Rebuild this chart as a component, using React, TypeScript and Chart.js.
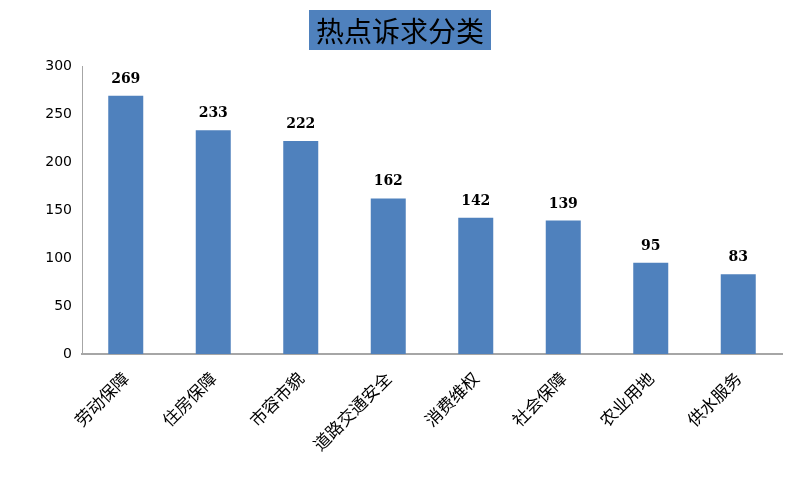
import React, { useEffect, useRef } from "react";
import { Chart, registerables } from "chart.js";

Chart.register(...registerables);

const categories = ["劳动保障", "住房保障", "市容市貌", "道路交通安全", "消费维权", "社会保障", "农业用地", "供水服务"];
const counts = [269, 233, 222, 162, 142, 139, 95, 83];
const yTicks = [0, 50, 100, 150, 200, 250, 300];
const titleText = "热点诉求分类";

const BLUE = "#4F81BD";

const titlePlugin = {
  id: "boxTitle",
  afterDraw(chart: any) {
    const ctx = chart.ctx;
    ctx.save();
    ctx.font = "28px 'Noto Sans CJK SC'";
    const w = ctx.measureText(titleText).width;
    const cx = 400;
    const bw = w + 14;
    ctx.fillStyle = BLUE;
    ctx.fillRect(cx - bw / 2, 10, bw, 40);
    ctx.fillStyle = "#000";
    ctx.textAlign = "center";
    ctx.textBaseline = "middle";
    ctx.fillText(titleText, cx, 31);
    ctx.restore();
  },
};

const valueLabels = {
  id: "valueLabels",
  afterDatasetsDraw(chart: any) {
    const ctx = chart.ctx;
    const meta = chart.getDatasetMeta(0);
    ctx.save();
    ctx.font = "bold 14px 'DejaVu Serif'";
    ctx.fillStyle = "#000";
    ctx.textAlign = "center";
    ctx.textBaseline = "alphabetic";
    meta.data.forEach((el: any, i: number) => {
      ctx.fillText(String(counts[i]), el.x, el.y - 13);
    });
    ctx.restore();
  },
};

export default function App() {
  const ref = useRef<HTMLCanvasElement>(null);
  useEffect(() => {
    document.body.style.margin = "0";
    const chart = new Chart(ref.current!, {
      type: "bar",
      data: {
        labels: categories,
        datasets: [
          {
            data: counts,
            backgroundColor: BLUE,
            barPercentage: 0.4,
            categoryPercentage: 1,
          },
        ],
      },
      options: {
        animation: false,
        responsive: false,
        layout: { padding: { top: 66, right: 18, left: 0, bottom: 0 } },
        plugins: { legend: { display: false }, tooltip: { enabled: false }, title: { display: false } },
        scales: {
          x: {
            grid: { display: false, drawTicks: false },
            border: { color: "#A6A6A6", width: 2 },
            ticks: {
              minRotation: 45,
              maxRotation: 45,
              padding: 14,
              color: "#000",
              font: { family: "'Noto Sans CJK SC'", size: 17 },
            },
            afterFit: (s: any) => {
              s.height = 501 - 354;
            },
          },
          y: {
            min: 0,
            max: 300,
            afterBuildTicks: (s: any) => {
              s.ticks = yTicks.map((v) => ({ value: v }));
            },
            grid: { display: false, drawTicks: false },
            border: { color: "#A6A6A6", width: 1 },
            ticks: {
              padding: 10,
              color: "#000",
              font: { family: "'DejaVu Sans'", size: 14 },
            },
            afterFit: (s: any) => {
              s.width = 82;
            },
          },
        },
      },
      plugins: [valueLabels, titlePlugin],
    });
    return () => chart.destroy();
  }, []);
  return (
    <div style={{ width: 800, height: 501 }}>
      <canvas ref={ref} width={800} height={501} style={{ display: "block" }} />
    </div>
  );
}
